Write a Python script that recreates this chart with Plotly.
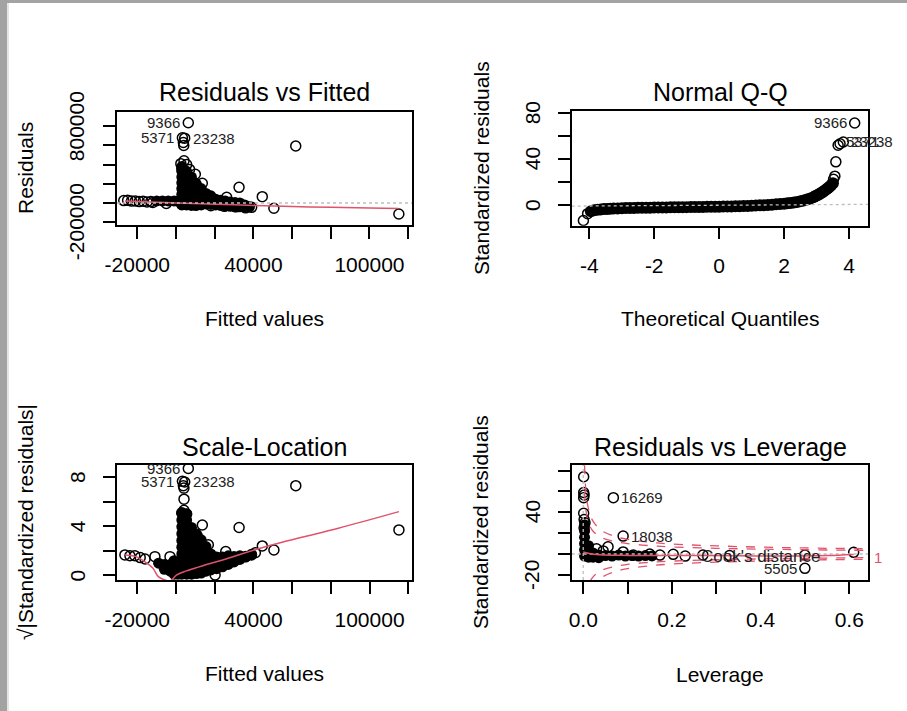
import plotly.graph_objects as go

RED = "#DF536B"
GREY = "#BEBEBE"
FONT = "Liberation Sans"
W, H = 907, 711

# ---------------- Residuals vs Fitted ----------------
rvf_core_x = [-10000, -7000, -4000, -1000, 1000,
              3000, 3000, 3000, 3000, 3000, 3000, 3000, 3000,
              5500, 5500, 5500, 5500, 5500, 5500, 5500,
              8000, 8000, 8000, 8000, 8000, 8000,
              10500, 10500, 10500, 10500, 10500,
              13000, 13000, 13000, 13000,
              15500, 15500, 15500, 18000, 18000, 18000,
              20500, 20500, 23000, 23000, 25500, 25500, 28000, 28000,
              30500, 30500, 33000, 33000, 35500, 35500, 38000]
rvf_core_y = [22000, 22000, 22000, 22000, 20000,
              -20000, 30000, 90000, 150000, 210000, 270000, 330000, 380000,
              -20000, 30000, 90000, 150000, 210000, 270000, 330000,
              -25000, 30000, 90000, 150000, 210000, 270000,
              -25000, 30000, 90000, 150000, 200000,
              -20000, 40000, 100000, 150000,
              -10000, 40000, 100000, -15000, 30000, 75000,
              40000, -20000, 30000, -25000, 20000, -30000, 10000, -35000,
              5000, -40000, 0, -40000, -20000, -45000, -40000]
rvf_pts_x = [6360, 3300, 4500, 3800, 4000, 4130, 2500, 5500, 3000, 7000, 10000,
             13600, 15900, 26200, 32600, 44600, 50600, 39100, 36000, 61900, 115200,
             -27000, -25000, -23000, -21000, -19000, -17000, -15000, -13000, -12000,
             -5000, 3000, 10000, 18000, 25000, 31000]
rvf_pts_y = [836000, 680000, 675000, 630000, 600000, 440000, 410000, 400000, 360000, 350000, 300000,
             205000, 83000, 59000, 163000, 66000, -55000, -45000, -50000, 594000, -115000,
             25000, 28000, 20000, 22000, 15000, 18000, 10000, 15000, 5000,
             -5000, -12000, -20000, -28000, -35000, -40000]
rvf_smooth_x = [-26400, -10000, 0, 20000, 40000, 60000, 80000, 100000, 115000]
rvf_smooth_y = [22000, 8000, 0, -12000, -25000, -36000, -45000, -52000, -57000]
rvf_id = ["9366", "5371", "23238"]
rvf_id_x = [6360, 3300, 4500]
rvf_id_y = [836000, 680000, 675000]
rvf_id_side = ["l", "l", "r"]

fit_ticks = [-20000, 0, 20000, 40000, 60000, 80000, 100000, 120000]
fit_labels = ["-20000", "", "", "40000", "", "", "100000", ""]
res_ticks = [-200000, 0, 200000, 400000, 600000, 800000]
res_labels = ["-200000", "", "", "", "", "800000"]

# ---------------- Normal Q-Q ----------------
qq_core_x = [-3.95, -3.85, -3.75, -3.65, -3.55, -3.45, -3.35, -3.25, -3.125, -3.0,
             -2.875, -2.75, -2.625, -2.5, -2.375, -2.25, -2.125, -2.0, -1.875, -1.75,
             -1.625, -1.5, -1.375, -1.25, -1.125, -1.0, -0.875, -0.75, -0.625, -0.5,
             -0.375, -0.25, -0.125, 0.0, 0.125, 0.25, 0.375, 0.5, 0.625, 0.75,
             0.875, 1.0, 1.125, 1.25, 1.375, 1.5, 1.625, 1.75, 1.875, 2.0,
             2.1, 2.2, 2.3, 2.4, 2.5, 2.6, 2.7, 2.8, 2.9, 2.95,
             3.0, 3.05, 3.1, 3.15, 3.2, 3.25, 3.3, 3.35, 3.4, 3.45, 3.5]
qq_core_y = [-5.5, -4.6, -4.1, -3.8, -3.5, -3.35, -3.2, -3.05, -2.9, -2.75,
             -2.65, -2.55, -2.5, -2.4, -2.35, -2.3, -2.25, -2.2, -2.15, -2.1,
             -2.05, -2.0, -1.95, -1.9, -1.85, -1.8, -1.75, -1.7, -1.65, -1.6,
             -1.55, -1.5, -1.45, -1.4, -1.3, -1.25, -1.2, -1.1, -1.0, -0.85,
             -0.75, -0.6, -0.45, -0.25, -0.1, 0.1, 0.35, 0.6, 0.9, 1.2,
             1.5, 1.8, 2.2, 2.7, 3.3, 4.0, 4.8, 5.8, 6.9, 7.6,
             8.3, 9.0, 9.8, 10.7, 11.6, 12.7, 13.8, 14.8, 16.0, 17.5, 19.0]
qq_pts_x = [-4.18, -4.05, 3.52, 3.56, 3.59, 3.66, 3.72, 3.82, 4.17]
qq_pts_y = [-13.5, -7.5, 22.5, 25.2, 37.7, 52.2, 53.5, 55.0, 71.6]
qq_line_x = [-4.54, 4.58]
qq_line_y = [-0.9, 0.6]
qq_id = ["9366", "5371", "23238"]
qq_id_x = [4.17, 3.66, 3.82]
qq_id_y = [71.6, 55.0, 55.0]
qq_id_side = ["l", "r", "r"]

qx_ticks = [-4, -2, 0, 2, 4]
qx_labels = ["-4", "-2", "0", "2", "4"]
qy_ticks = [0, 20, 40, 60, 80]
qy_labels = ["0", "", "40", "", "80"]

# ---------------- Scale-Location ----------------
sl_core_x = [-9000, -6000, -6000, -3000, -3000, -1000, -1000, -1000, 1000, 1000,
             3000, 3000, 3000, 3000, 3000, 3000, 3000, 3000, 3000, 3000,
             5500, 5500, 5500, 5500, 5500, 5500, 5500, 5500, 5500, 5500,
             8000, 8000, 8000, 8000, 8000, 8000, 8000, 8000,
             10500, 10500, 10500, 10500, 10500, 10500, 10500,
             13000, 13000, 13000, 13000, 13000, 13000,
             15500, 15500, 15500, 15500, 15500,
             18000, 18000, 18000, 18000, 21000, 21000, 21000,
             24000, 24000, 24000, 27000, 27000, 27000,
             30000, 30000, 33000, 33000, 36000, 39000]
sl_core_y = [1.0, 0.9, 0.5, 0.9, 0.35, 0.1, 0.65, 1.2, 0.1, 0.6,
             0.1, 0.65, 1.2, 1.75, 2.3, 2.85, 3.4, 3.95, 4.5, 5.05,
             0.1, 0.65, 1.2, 1.75, 2.3, 2.85, 3.4, 3.95, 4.5, 5.0,
             0.1, 0.65, 1.2, 1.75, 2.3, 2.85, 3.4, 3.9,
             0.15, 0.7, 1.25, 1.8, 2.35, 2.9, 3.4,
             0.2, 0.75, 1.3, 1.85, 2.4, 2.9,
             0.35, 0.9, 1.45, 2.0, 2.35,
             0.45, 1.0, 1.5, 1.75, 0.55, 1.05, 1.5,
             0.7, 1.15, 1.5, 0.9, 1.3, 1.6,
             1.1, 1.55, 1.3, 1.6, 1.5, 1.65]
sl_pts_x = [6360, 3300, 4500, 3800, 4100, 4130, 4100, 3000, 5500, 61900, 32600,
            13600, 115200, 50600, 44600, 16700, 25700,
            -26400, -23800, -21300, -18500, -16000, -10900, -3100,
            20200, -2200, 39000, 36000, 41000, 11000]
sl_pts_y = [8.7, 7.65, 7.6, 7.3, 7.1, 6.2, 5.3, 5.1, 5.0, 7.3, 3.9,
            4.1, 3.7, 2.07, 2.4, 2.5, 1.94,
            1.67, 1.6, 1.61, 1.45, 1.34, 1.53, 1.53,
            0.04, 0.58, 1.7, 1.55, 1.85, 3.2]
sl_smooth_x = [-26400, -21000, -16000, -12000, -9100, -6000, -3100, 360, 5000, 10000,
               15000, 25000, 32200, 49400, 65000, 83900, 115200]
sl_smooth_y = [1.67, 1.55, 1.1, 0.6, -0.1, -0.35, -0.45, 0.04, 0.35, 0.6,
               0.85, 1.3, 1.67, 2.48, 3.1, 3.84, 5.19]
sl_id = ["9366", "5371", "23238"]
sl_id_x = [6360, 3300, 4500]
sl_id_y = [8.7, 7.65, 7.6]
sl_id_side = ["l", "l", "r"]

sy_ticks = [0, 2, 4, 6, 8]
sy_labels = ["0", "", "4", "", "8"]

# ---------------- Residuals vs Leverage ----------------
rl_core_x = [0.003, 0.003, 0.003, 0.003, 0.003, 0.003, 0.012, 0.012, 0.012, 0.022, 0.022,
             0.035, 0.035, 0.05, 0.065, 0.08, 0.095, 0.11, 0.125, 0.14, 0.155]
rl_core_y = [28, 22, 16, 10, 4, -2, 8, 2, -3, 1, -3,
             -1, -3.5, -1.5, -2, -1, -2, -1.5, -2, -1.5, -1.8]
rl_pts_x = [0.001, 0.001, 0.002, 0.001, 0.001, 0.002, 0.004, 0.002, 0.068, 0.09, 0.5,
            0.61, 0.056, 0.113, 0.173, 0.203, 0.27, 0.15, 0.23, 0.03, 0.045, 0.09, 0.33, 0.5]
rl_pts_y = [74, 59, 56.5, 54, 39, 33, 30, 25, 54, 17.2, -13.7,
            1.6, 7, -1, -1, -0.3, -1, 0, -2, 5, 3, 2, -1.5, -1]
rl_smooth_x = [0.0, 0.03, 0.08, 0.15, 0.25, 0.35, 0.45, 0.55, 0.61]
rl_smooth_y = [2.0, -0.5, -1.2, -1.5, -1.5, -1.6, -2.0, -1.5, -0.5]
cook_h = [0.003, 0.006, 0.01, 0.02, 0.04, 0.07, 0.1, 0.15, 0.2, 0.3, 0.4, 0.5, 0.643]
cook05_up = [60, 42, 33, 23, 16, 12, 10, 8, 6.8, 5.5, 4.7, 4.1, 3.5]
cook1_up = [85, 60, 47, 33, 23, 17, 14, 11.3, 9.6, 7.8, 6.6, 5.8, 5.0]
cook05_lo = [-60, -42, -33, -23, -16, -12, -10, -8, -6.8, -5.5, -4.7, -4.1, -3.5]
cook1_lo = [-85, -60, -47, -33, -23, -17, -14, -11.3, -9.6, -7.8, -6.6, -5.8, -5.0]
rl_id = ["16269", "18038", "5505"]
rl_id_x = [0.068, 0.09, 0.5]
rl_id_y = [54, 17.2, -13.7]
rl_id_side = ["r", "r", "l"]

lx_ticks = [0.0, 0.1, 0.2, 0.3, 0.4, 0.5, 0.6]
lx_labels = ["0.0", "", "0.2", "", "0.4", "", "0.6"]
ly_ticks = [-20, 0, 20, 40, 60, 80]
ly_labels = ["-20", "", "", "40", "", ""]


def dom_x(a, b):
    return [a / W, b / W]


def dom_y(top, bottom):
    return [1 - bottom / H, 1 - top / H]


def axis(rng, dom, vals, text, anchor, vertical=False):
    d = dict(range=rng, domain=dom, tickvals=vals, ticktext=text, anchor=anchor,
             automargin=False, fixedrange=True,
             showline=True, mirror=True, linecolor="black", linewidth=1.5,
             ticks="outside", ticklen=12, tickwidth=1.5, tickcolor="black",
             showgrid=False, zeroline=False, ticklabelstandoff=8,
             tickfont=dict(family=FONT, size=21, color="black"))
    if vertical:
        # y labels are drawn as rotated annotations below
        d["showticklabels"] = False
    return d


fig = go.Figure()


def add_panel(core_x, core_y, pts_x, pts_y, xa, ya, core_size=11):
    fig.add_trace(go.Scatter(x=core_x, y=core_y, mode="markers", xaxis=xa, yaxis=ya,
                             marker=dict(symbol="circle", size=core_size, color="black"),
                             hoverinfo="skip"))
    fig.add_trace(go.Scatter(x=pts_x, y=pts_y, mode="markers", xaxis=xa, yaxis=ya,
                             marker=dict(symbol="circle-open", size=10, color="black",
                                         line=dict(width=1.5)),
                             hoverinfo="skip"))


def add_line(x, y, xa, ya, color, dash="solid", width=1.5, spline=True):
    fig.add_trace(go.Scatter(x=x, y=y, mode="lines", xaxis=xa, yaxis=ya,
                             line=dict(color=color, dash=dash, width=width,
                                       shape="spline" if spline else "linear"),
                             hoverinfo="skip"))


add_panel(rvf_core_x, rvf_core_y, rvf_pts_x, rvf_pts_y, "x", "y")
add_line(rvf_smooth_x, rvf_smooth_y, "x", "y", RED)
add_line([-30500, 122000], [0, 0], "x", "y", GREY, dash="dot", width=1.3, spline=False)

add_panel(qq_core_x, qq_core_y, qq_pts_x, qq_pts_y, "x2", "y2", core_size=12)
add_line(qq_line_x, qq_line_y, "x2", "y2", GREY, dash="dot", width=1.3, spline=False)

add_panel(sl_core_x, sl_core_y, sl_pts_x, sl_pts_y, "x3", "y3")
add_line(sl_smooth_x, sl_smooth_y, "x3", "y3", RED)

add_panel(rl_core_x, rl_core_y, rl_pts_x, rl_pts_y, "x4", "y4")
add_line([-0.026, 0.643], [0, 0], "x4", "y4", GREY, dash="dot", width=1.3, spline=False)
add_line([0, 0], [-24.9, 85.3], "x4", "y4", GREY, dash="dot", width=1.3, spline=False)
add_line(rl_smooth_x, rl_smooth_y, "x4", "y4", RED)
for cy in (cook05_up, cook1_up, cook05_lo, cook1_lo):
    add_line(cook_h, cy, "x4", "y4", RED, dash="dash", width=1.3)

ann = []


def id_labels(xs, ys, texts, sides, xr, yr):
    for x, y, t, s in zip(xs, ys, texts, sides):
        ann.append(dict(x=x, y=y, xref=xr, yref=yr, text=t, showarrow=False,
                        xanchor="right" if s == "l" else "left",
                        xshift=-6 if s == "l" else 6, yanchor="middle",
                        font=dict(family=FONT, size=15, color="#222")))


id_labels(rvf_id_x, rvf_id_y, rvf_id, rvf_id_side, "x", "y")
id_labels(qq_id_x, qq_id_y, qq_id, qq_id_side, "x2", "y2")
id_labels(sl_id_x, sl_id_y, sl_id, sl_id_side, "x3", "y3")
id_labels(rl_id_x, rl_id_y, rl_id, rl_id_side, "x4", "y4")


def ytick_labels(vals, texts, px, yr):
    for v, t in zip(vals, texts):
        if t:
            ann.append(dict(x=px / W, y=v, xref="paper", yref=yr, text=t, showarrow=False,
                            textangle=-90, xanchor="center", yanchor="middle",
                            font=dict(family=FONT, size=21, color="black")))


ytick_labels(res_ticks, res_labels, 76, "y")
ytick_labels(qy_ticks, qy_labels, 532, "y2")
ytick_labels(sy_ticks, sy_labels, 77, "y3")
ytick_labels(ly_ticks, ly_labels, 532, "y4")


def txt(px, py, t, size=21, angle=0, color="black"):
    ann.append(dict(x=px / W, y=1 - py / H, xref="paper", yref="paper", text=t,
                    showarrow=False, textangle=angle, xanchor="center", yanchor="middle",
                    font=dict(family=FONT, size=size, color=color)))


txt(264, 92, "Residuals vs Fitted", 25)
txt(720, 92, "Normal Q-Q", 25)
txt(264, 447, "Scale-Location", 25)
txt(720, 447, "Residuals vs Leverage", 25)
txt(264, 318, "Fitted values")
txt(720, 318, "Theoretical Quantiles")
txt(264, 673, "Fitted values")
txt(720, 674, "Leverage")
txt(25, 168, "Residuals", angle=-90)
txt(481, 168, "Standardized residuals", angle=-90)
txt(25, 522, "√|Standardized residuals|", angle=-90)
txt(480, 522, "Standardized residuals", angle=-90)
# Cook's distance legend text and contour level label
txt(760, 556, "Cook's distance", 17, color="#222")
txt(878, 557, "1", 15, color=RED)

shapes = [
    dict(type="rect", xref="paper", yref="paper", x0=0, x1=7 / W, y0=0, y1=1,
         fillcolor="#a3a3a3", line=dict(width=0), layer="above"),
    dict(type="rect", xref="paper", yref="paper", x0=0, x1=1, y0=1 - 3 / H, y1=1,
         fillcolor="#a3a3a3", line=dict(width=0), layer="above"),
    dict(type="line", xref="paper", yref="paper", x0=8 / W, x1=8 / W, y0=0, y1=1 - 3 / H,
         line=dict(color="#dcdcdc", width=1.5)),
]

fig.update_layout(
    width=W, height=H, margin=dict(l=0, r=0, t=0, b=0, pad=0),
    paper_bgcolor="white", plot_bgcolor="white", showlegend=False,
    xaxis=axis([-30500, 122000], dom_x(117, 412), fit_ticks, fit_labels, "y"),
    yaxis=axis([-229000, 953000], dom_y(111.5, 225), res_ticks, res_labels, "x", True),
    xaxis2=axis([-4.54, 4.58], dom_x(571.7, 868), qx_ticks, qx_labels, "y2"),
    yaxis2=axis([-18, 82.3], dom_y(110.7, 225.7), qy_ticks, qy_labels, "x2", True),
    xaxis3=axis([-30650, 121800], dom_x(116.7, 411.7), fit_ticks, fit_labels, "y3"),
    yaxis3=axis([-0.37, 8.98], dom_y(465, 580), sy_ticks, sy_labels, "x3", True),
    xaxis4=axis([-0.026, 0.643], dom_x(571.7, 868.3), lx_ticks, lx_labels, "y4"),
    yaxis4=axis([-24.9, 85.3], dom_y(465, 580), ly_ticks, ly_labels, "x4", True),
    annotations=ann, shapes=shapes,
)

fig.write_html("out.html", config={"displayModeBar": False},
               post_script="document.body.style.margin='0';")
